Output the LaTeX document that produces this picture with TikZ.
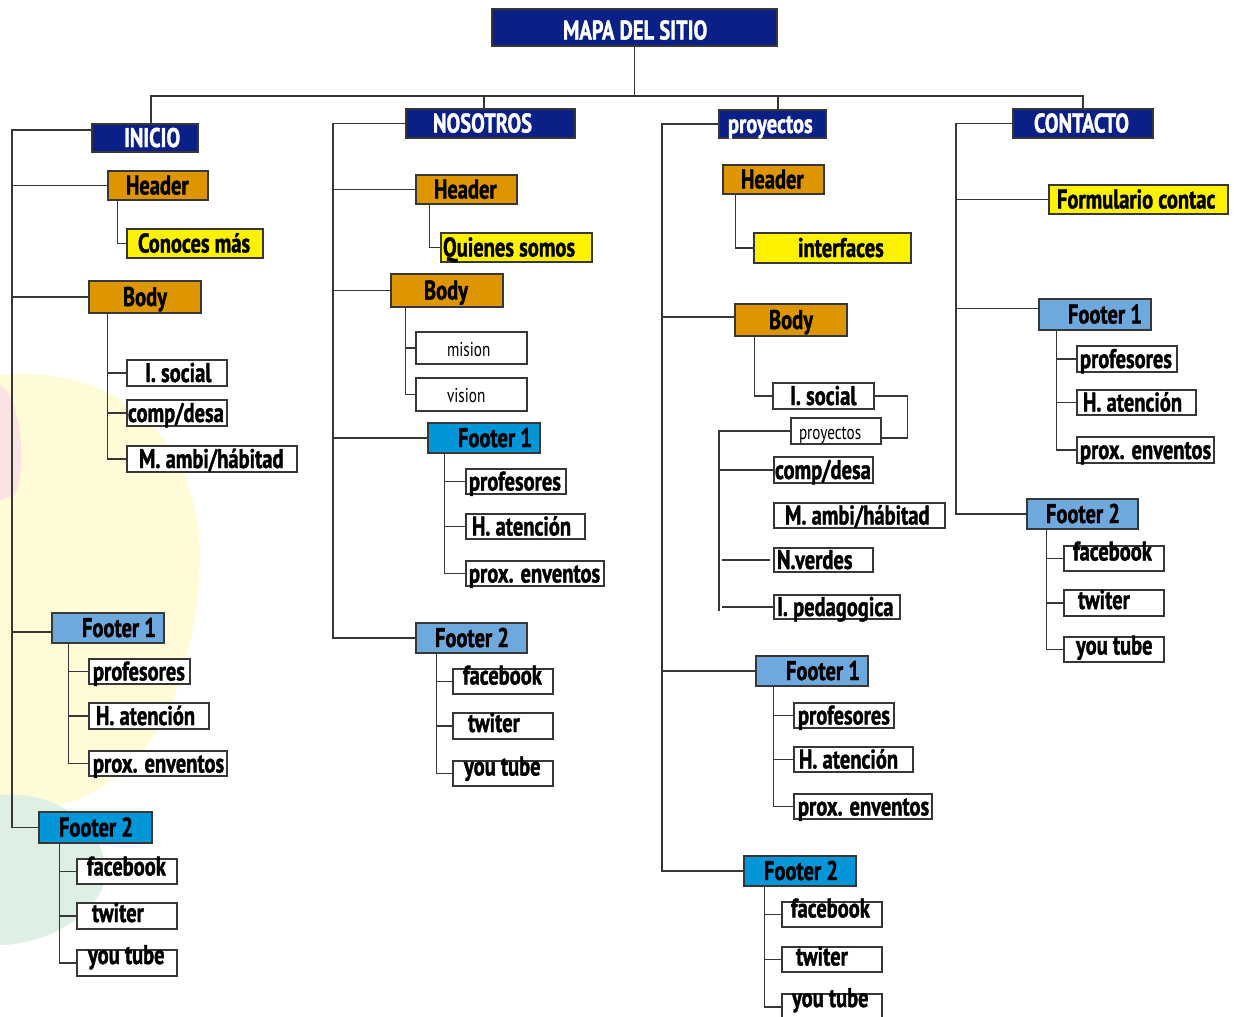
\documentclass[tikz,border=0pt]{standalone}
\usepackage{fontspec}
\newfontfamily\cond{PT Sans}[FakeStretch=0.76,BoldFeatures={FakeStretch=0.76,FakeBold=1.3}]
\definecolor{navyc}{RGB}{10,32,135}
\definecolor{goldc}{RGB}{222,150,0}
\definecolor{yelc}{RGB}{255,242,0}
\definecolor{lbluec}{RGB}{111,168,220}
\definecolor{bbluec}{RGB}{0,150,215}
\definecolor{linec}{RGB}{55,55,55}
\definecolor{wmy}{RGB}{255,251,215}
\definecolor{wmp}{RGB}{253,226,228}
\definecolor{wmg}{RGB}{222,240,228}
\newcommand\BoxAt[8]{%
  \pgfmathsetmacro\bw{#5-#3}\pgfmathsetmacro\bh{#6-#4}%
  \node[#1, minimum width=\bw pt, minimum height=\bh pt] (#2) at ({(#3+#5)/2},{(#4+#6)/2})
    {\makebox[\bw pt][l]{\hspace*{#7pt}#8}};}
\newcommand\Fam[5]{%
  \coordinate (#1-v) at ([xshift=#2pt]#1.south west);
  \draw[conn] (#1-v) |- (#5.west);
  \draw[conn] (#3.west -| #1-v) -- (#3.west);
  \draw[conn] (#4.west -| #1-v) -- (#4.west);}
\begin{document}
\begin{tikzpicture}[x=1pt,y=-1pt,
  bx/.style={draw=linec, line width=1.2pt, inner sep=0pt, text=black,
    text height=18pt, text depth=0pt,
    font=\cond\bfseries\fontsize{27}{29}\selectfont},
  nav/.style={bx, fill=navyc, text=white},
  gold/.style={bx, fill=goldc},
  yel/.style={bx, fill=yelc},
  lb/.style={bx, fill=lbluec},
  bb/.style={bx, fill=bbluec},
  wh/.style={bx, fill=white},
  whr/.style={bx, fill=white, text height=16pt, text depth=0pt, font=\cond\fontsize{20}{22}\selectfont},
  conn/.style={draw=linec, line width=1.3pt}]
\useasboundingbox (0,0) rectangle (1234,1017);
% faint background blobs
\fill[wmy] (0,375) .. controls (110,365) and (200,430) .. (200,560)
  .. controls (195,690) and (150,780) .. (60,805) -- (0,800) -- cycle;
\fill[wmp] (0,385) .. controls (20,395) and (28,465) .. (15,495) -- (0,500) -- cycle;
\fill[wmg] (0,795) .. controls (60,790) and (110,830) .. (105,880)
  .. controls (95,920) and (40,945) .. (0,945) -- cycle;

% top
\BoxAt{nav}{mapa}{492}{9}{777}{46}{71}{\raisebox{-3pt}{MAPA DEL SITIO}}
\BoxAt{nav}{inicio}{92}{124}{198}{152}{32}{INICIO}
\BoxAt{nav}{nos}{406}{109}{575}{138}{27}{NOSOTROS}
\BoxAt{nav}{pro}{719}{110}{826}{138}{9}{proyectos}
\BoxAt{nav}{con}{1013}{109}{1153}{138}{21}{CONTACTO}
\coordinate (busL) at (151,96);
\coordinate (busR) at (1083,96);
\draw[conn] (mapa.south) -- (mapa.south |- busL);
\draw[conn] ([xshift=6pt]inicio.north) -- ([xshift=6pt]inicio.north |- busL) -- (busR) -- (busR |- con.north);
\draw[conn] ([xshift=-6.5pt]nos.north) -- ([xshift=-6.5pt]nos.north |- busL);
\draw[conn] ([xshift=5.5pt]pro.north) -- ([xshift=5.5pt]pro.north |- busL);

% INICIO column
\BoxAt{gold}{ih}{108}{171}{208}{200}{18}{Header}
\BoxAt{yel}{ic}{127}{229}{263}{258}{11}{Conoces más}
\BoxAt{gold}{ib}{89}{281}{201}{313}{34}{Body}
\BoxAt{wh}{is}{127}{360}{227}{386}{18}{I. social}
\BoxAt{wh}{icd}{127}{400}{227}{426}{1}{comp/desa}
\BoxAt{wh}{im}{127}{446}{297}{472}{12}{M. ambi/hábitad}
\BoxAt{lb}{if1}{52}{613}{164}{643}{30}{Footer 1}
\BoxAt{wh}{ip}{89}{659}{190}{684}{4}{profesores}
\BoxAt{wh}{iha}{89}{703}{209}{729}{7}{H. atención}
\BoxAt{wh}{ipe}{89}{751}{227}{776}{4}{prox. enventos}
\BoxAt{bb}{if2}{39}{812}{152}{843}{20}{Footer 2}
\BoxAt{wh}{ifb}{77}{859}{177}{884}{10}{\raisebox{5pt}{facebook}}
\BoxAt{wh}{itw}{77}{903}{177}{929}{15}{\raisebox{3pt}{twiter}}
\BoxAt{wh}{iyt}{77}{950}{177}{976}{11}{\raisebox{8pt}{you tube}}
\coordinate (iT) at (12,130);
\draw[conn] ([yshift=8pt]inicio.west) -- (iT) -- (iT |- if2.west) -- (if2.west);
\draw[conn] (ih.west -| iT) -- (ih.west);
\draw[conn] (ib.west -| iT) -- (ib.west);
\draw[conn] ([yshift=-4pt]if1.west -| iT) -- ([yshift=-4pt]if1.west);
\draw[conn] ([xshift=10pt]ih.south west) |- (ic.west);
\Fam{ib}{19}{is}{icd}{im}
\Fam{if1}{17}{ip}{iha}{ipe}
\Fam{if2}{21}{ifb}{itw}{iyt}

% NOSOTROS column
\BoxAt{gold}{nh}{416}{175}{517}{204}{18}{Header}
\BoxAt{yel}{nq}{441}{233}{592}{262}{2}{Quienes somos}
\BoxAt{gold}{nb}{391}{274}{503}{307}{33}{Body}
\BoxAt{whr}{nmi}{416}{332}{527}{364}{31}{mision}
\BoxAt{whr}{nvi}{416}{378}{527}{411}{31}{vision}
\BoxAt{bb}{nf1}{428}{423}{540}{453}{30}{Footer 1}
\BoxAt{wh}{np}{466}{469}{566}{494}{3}{profesores}
\BoxAt{wh}{nha}{466}{514}{585}{539}{6}{H. atención}
\BoxAt{wh}{npe}{466}{561}{604}{586}{3}{prox. enventos}
\BoxAt{lb}{nf2}{416}{623}{527}{653}{19}{Footer 2}
\BoxAt{wh}{nfb}{453}{669}{553}{694}{10}{\raisebox{6pt}{facebook}}
\BoxAt{wh}{ntw}{453}{713}{553}{739}{15}{\raisebox{3pt}{twiter}}
\BoxAt{wh}{nyt}{453}{761}{553}{786}{11}{\raisebox{7pt}{you tube}}
\coordinate (nT) at (333,123.5);
\draw[conn] (nos.west) -- (nT) -- (nT |- nf2.west) -- (nf2.west);
\draw[conn] (nh.west -| nT) -- (nh.west);
\draw[conn] (nb.west -| nT) -- (nb.west);
\draw[conn] (nf1.west -| nT) -- (nf1.west);
\draw[conn] ([xshift=14pt]nh.south west) |- (nq.west);
\coordinate (nb-v) at ([xshift=15pt]nb.south west);
\draw[conn] (nb-v) |- (nvi.west);
\draw[conn] (nmi.west -| nb-v) -- (nmi.west);
\Fam{nf1}{17}{np}{nha}{npe}
\Fam{nf2}{21}{nfb}{ntw}{nyt}

% proyectos column
\BoxAt{gold}{ph}{723}{165}{824}{194}{18}{Header}
\BoxAt{yel}{pi}{754}{233}{911}{263}{44}{interfaces}
\BoxAt{gold}{pb}{735}{304}{847}{336}{34}{Body}
\BoxAt{wh}{pis}{773}{383}{874}{409}{17}{I. social}
\BoxAt{whr}{ppr}{791}{418}{881}{444}{8}{proyectos}
\BoxAt{wh}{pcd}{774}{457}{873}{483}{1}{comp/desa}
\BoxAt{wh}{pm}{774}{503}{945}{528}{11}{M. ambi/hábitad}
\BoxAt{wh}{pnv}{774}{548}{873}{572}{3}{N.verdes}
\BoxAt{wh}{pip}{774}{595}{900}{619}{3}{I. pedagogica}
\BoxAt{lb}{pf1}{756}{656}{868}{686}{30}{Footer 1}
\BoxAt{wh}{pp}{794}{703}{894}{728}{4}{profesores}
\BoxAt{wh}{pha}{794}{747}{913}{772}{5}{H. atención}
\BoxAt{wh}{ppe}{794}{794}{932}{819}{4}{prox. enventos}
\BoxAt{bb}{pf2}{744}{856}{856}{886}{20}{Footer 2}
\BoxAt{wh}{pfb}{782}{902}{882}{927}{9}{\raisebox{6pt}{facebook}}
\BoxAt{wh}{ptw}{782}{947}{882}{972}{14}{\raisebox{3pt}{twiter}}
\BoxAt{wh}{pyt}{782}{994}{882}{1020}{10}{\raisebox{9pt}{you tube}}
\coordinate (pT) at (662,124);
\draw[conn] (pro.west) -- (pT) -- (pT |- pf2.west) -- (pf2.west);
\draw[conn] ([yshift=3pt]pb.west -| pT) -- ([yshift=3pt]pb.west);
\draw[conn] (pf1.west -| pT) -- (pf1.west);
\draw[conn] ([xshift=13pt]ph.south west) |- (pi.west);
\draw[conn] ([xshift=20pt]pb.south west) |- (pis.west);
\draw[conn] (pis.east) -- ++(33,0) |- ([yshift=-7pt]ppr.east);
\coordinate (pV) at (719,611);
\draw[conn] (ppr.west) -| (pV);
\draw[conn] (pcd.west -| pV) -- (pcd.west);
\draw[conn] ([xshift=3pt]pnv.west -| pV) -- ([xshift=-3pt]pnv.west);
\draw[conn] ([xshift=3pt]pip.west -| pV) -- (pip.west);
\Fam{pf1}{18}{pp}{pha}{ppe}
\Fam{pf2}{21}{pfb}{ptw}{pyt}

% CONTACTO column
\BoxAt{yel}{cf}{1049}{185}{1228}{214}{8}{Formulario contac}
\BoxAt{lb}{cf1}{1039}{299}{1151}{330}{29}{Footer 1}
\BoxAt{wh}{cp}{1077}{346}{1177}{372}{3}{profesores}
\BoxAt{wh}{cha}{1077}{390}{1196}{415}{6}{H. atención}
\BoxAt{wh}{cpe}{1077}{437}{1214}{463}{3}{prox. enventos}
\BoxAt{lb}{cf2}{1027}{499}{1138}{529}{19}{Footer 2}
\BoxAt{wh}{cfb}{1064}{546}{1164}{571}{9}{\raisebox{7pt}{facebook}}
\BoxAt{wh}{ctw}{1064}{590}{1164}{616}{14}{\raisebox{3pt}{twiter}}
\BoxAt{wh}{cyt}{1064}{637}{1164}{662}{12}{\raisebox{4pt}{you tube}}
\coordinate (cT) at (956,123.5);
\draw[conn] (con.west) -- (cT) -- (cT |- cf2.west) -- (cf2.west);
\draw[conn] (cf.west -| cT) -- (cf.west);
\draw[conn] ([yshift=6pt]cf1.west -| cT) -- ([yshift=6pt]cf1.west);
\Fam{cf1}{18}{cp}{cha}{cpe}
\Fam{cf2}{20}{cfb}{ctw}{cyt}
\end{tikzpicture}
\end{document}
